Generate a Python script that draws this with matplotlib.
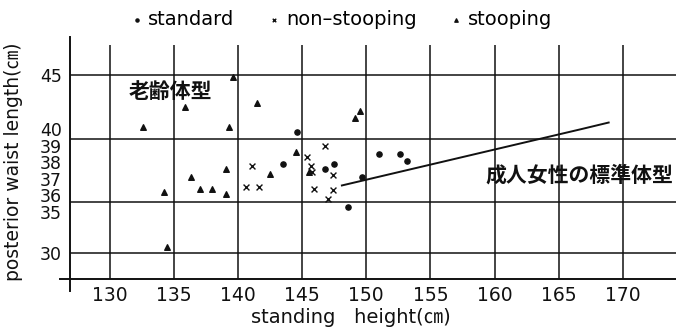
import numpy as np
import matplotlib
matplotlib.use('Agg')
import matplotlib.pyplot as plt

plt.rcParams['font.family'] = ['DejaVu Sans', 'Noto Sans CJK JP']

# standing height (cm) / posterior waist length (cm)
standard_x = [144.6, 143.5, 147.5, 151.0, 152.6, 153.2, 146.8, 149.7, 148.6]
standard_y = [39.8, 37.9, 37.9, 38.5, 38.5, 38.1, 37.6, 37.1, 35.3]

non_stooping_x = [145.4, 146.8, 145.7, 141.1, 145.8, 147.4, 141.6, 140.6, 145.9, 147.4, 147.0]
non_stooping_y = [38.3, 39.0, 37.8, 37.8, 37.4, 37.2, 36.5, 36.5, 36.4, 36.3, 35.8]

stooping_x = [139.6, 135.9, 141.5, 132.6, 139.3, 144.5, 149.5, 149.1, 142.5,
              145.5, 136.3, 139.1, 137.0, 138.0, 139.1, 134.2, 134.5]
stooping_y = [44.8, 42.0, 42.4, 40.2, 40.2, 38.6, 41.7, 41.0, 37.3,
              37.4, 37.1, 37.6, 36.4, 36.4, 36.1, 36.2, 30.7]

# adult female standard body type line
norm_x = [148.1, 166.8, 168.9]
norm_y = [36.6, 40.0, 40.6]

x_ticks = [130, 135, 140, 145, 150, 155, 160, 165, 170]
y_ticks = [45, 40, 39, 38, 37, 36, 35, 30]
h_lines = [45, 39.4, 35.6, 30]

# the original axis is stretched between 35 and 40
knot_vals = np.array([20, 30, 35, 40, 45, 55])
knot_pos = np.array([-74.1, 7.3, 48.0, 131.0, 185.0, 293.0])


def forward(v):
    return np.interp(v, knot_vals, knot_pos)


def inverse(u):
    return np.interp(u, knot_pos, knot_vals)


fig = plt.figure(figsize=(6.76, 3.33), dpi=100)
ax = fig.add_axes([70 / 676, 54 / 333, 606 / 676, 234 / 333])
ax.set_yscale('function', functions=(forward, inverse))
ax.set_xlim(126.9, 174.15)
ax.set_ylim(26.77, 47.78)

ink = '#111111'
for v in h_lines:
    ax.axhline(v, color=ink, lw=1.1, zorder=1)
ax.set_xticks(x_ticks)
ax.grid(axis='x', color=ink, lw=1.1)
ax.set_axisbelow(True)

h_std = ax.scatter(standard_x, standard_y, marker='o', s=14, color=ink, zorder=3)
h_non = ax.scatter(non_stooping_x, non_stooping_y, marker='x', s=18, color=ink,
                   linewidths=1.0, zorder=3)
h_stp = ax.scatter(stooping_x, stooping_y, marker='^', s=16, color=ink, zorder=3)
ax.plot(norm_x, norm_y, color=ink, lw=1.4, zorder=2)

ax.text(134.76, 43.47, '老齢体型', family='Noto Sans CJK JP', weight='bold',
        fontsize=15, ha='center', va='center', color=ink)
ax.text(159.3, 37.23, '成人女性の標準体型', family='Noto Sans CJK JP', weight='bold',
        fontsize=15, ha='left', va='center', color=ink)

# axes frame: only a long left line and a long bottom line
for s in ax.spines.values():
    s.set_visible(False)
ax.plot([0, 0], [-0.051, 1.034], transform=ax.transAxes, color=ink, lw=1.4, clip_on=False)
ax.plot([-0.0165, 1], [0, 0], transform=ax.transAxes, color=ink, lw=1.4, clip_on=False)

ax.set_yticks(y_ticks)
ax.set_yticklabels([str(t) for t in y_ticks])
ax.set_yticks([30, 45], minor=True)
ax.tick_params(axis='both', which='major', length=0, colors=ink)
ax.tick_params(axis='x', which='major', labelsize=13.5, pad=5)
ax.tick_params(axis='y', which='major', labelsize=12.5, pad=6)
ax.tick_params(axis='y', which='minor', length=4, width=1.1, colors=ink)
ax.tick_params(axis='x', which='minor', length=0)

ax.set_xlabel('standing   height(㎝)', fontsize=14, color=ink)
ax.xaxis.set_label_coords(0.4637, -0.124)
ax.set_ylabel('posterior waist length(㎝)', fontsize=13.5, color=ink)
ax.yaxis.set_label_coords(-0.0776, 0.5)

fig.legend([h_std, h_non, h_stp], ['standard', 'non\u2013stooping', 'stooping'],
           loc='center', bbox_to_anchor=(342 / 676, 1 - 19.5 / 333), ncol=3,
           frameon=False, fontsize=14, handlelength=0.5, handletextpad=0.35,
           columnspacing=1.8, markerscale=0.6, borderpad=0)

fig.savefig('out.png', dpi=100)
plt.close(fig)
